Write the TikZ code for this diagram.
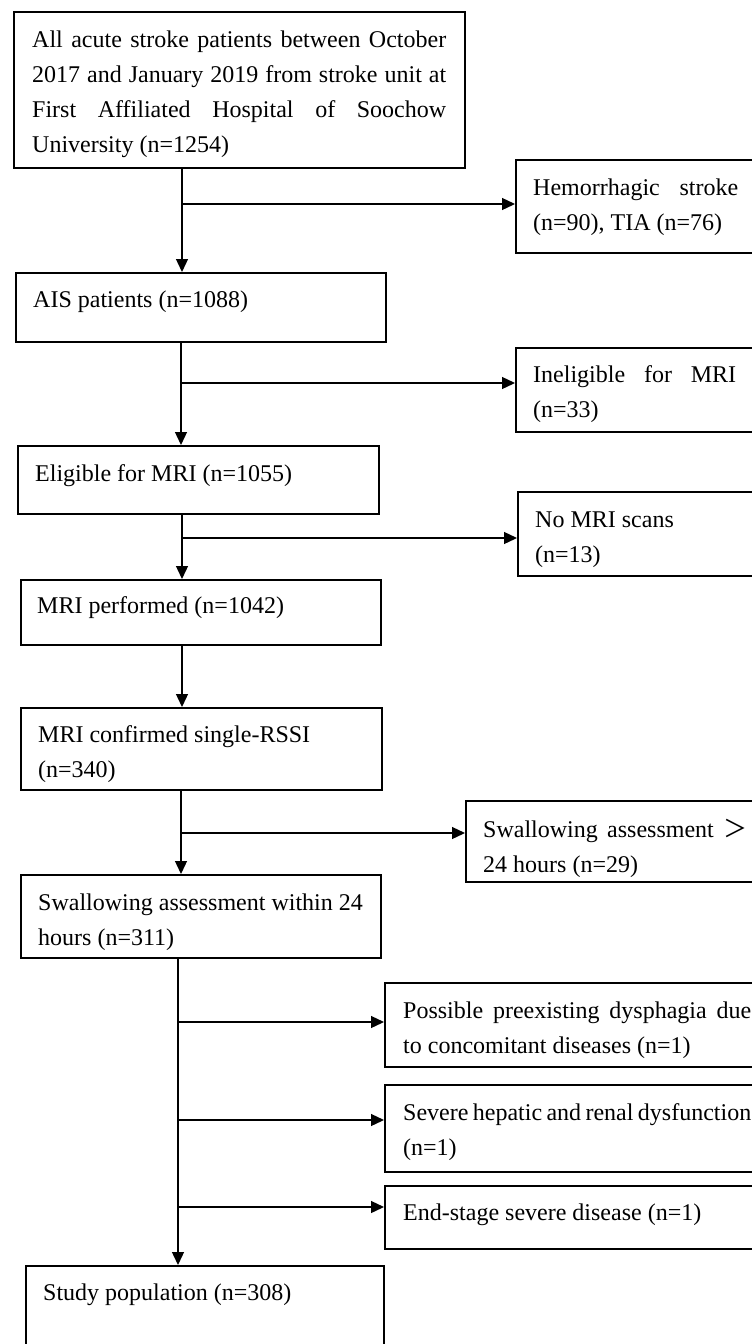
\documentclass[tikz,border=0pt]{standalone}
\usepackage{fontspec}
\setmainfont{Liberation Serif}
\newfontfamily\cjk{Noto Sans CJK SC}
\usetikzlibrary{arrows.meta}
\newcommand{\resetsp}{\spaceskip=0pt\xspaceskip=0pt\relax}
\newcommand{\jline}[2]{\makebox[#1][s]{\resetsp #2}}
\begin{document}
\begin{tikzpicture}[x=1pt,y=-1pt,
  box/.style={draw, line width=1.5pt, inner sep=0pt, anchor=north west},
  txt/.style={anchor=base west, inner sep=0pt, text width=440pt,
    font=\fontsize{24}{35}\selectfont\resetsp,
    execute at begin node=\resetsp},
  conn/.style={line width=1.3pt, -{Triangle[length=13pt,width=12pt]}}]
\useasboundingbox (0,0) rectangle (752,1344);
\clip (0,0) rectangle (752,1344);
\fill[white] (0,0) rectangle (752,1344);

% boxes
\node[box, minimum width=451pt, minimum height=156pt] (b1) at (13,11) {};
\node[box, minimum width=260pt, minimum height=93pt] (b2) at (515,159) {};
\node[box, minimum width=370pt, minimum height=69pt] (b3) at (15,272) {};
\node[box, minimum width=260pt, minimum height=84pt] (b4) at (515,347) {};
\node[box, minimum width=361pt, minimum height=68pt] (b5) at (17,445) {};
\node[box, minimum width=260pt, minimum height=84pt] (b6) at (517,491) {};
\node[box, minimum width=360pt, minimum height=65pt] (b7) at (20,579) {};
\node[box, minimum width=361pt, minimum height=82pt] (b8) at (20,707) {};
\node[box, minimum width=300pt, minimum height=81pt] (b9) at (465,800) {};
\node[box, minimum width=360pt, minimum height=83pt] (b10) at (20,874) {};
\node[box, minimum width=400pt, minimum height=84pt] (b11) at (384,982) {};
\node[box, minimum width=400pt, minimum height=87pt] (b12) at (384,1084) {};
\node[box, minimum width=400pt, minimum height=63pt] (b13) at (384,1185) {};
\node[box, minimum width=358pt, minimum height=120pt] (b14) at (25,1265) {};

% texts
\node[txt] (t1) at (32,47) {\jline{414pt}{All acute stroke patients between October}\\
\jline{414pt}{2017 and January 2019 from stroke unit at}\\
\jline{414pt}{First Affiliated Hospital of Soochow}\\
University (n=1254)};
\node[txt] (t2) at (533,195) {\jline{205pt}{Hemorrhagic stroke}\\(n=90), TIA (n=76)};
\node[txt] (t3) at (33,307) {AIS patients (n=1088)};
\node[txt] (t4) at (533,382) {\jline{203pt}{Ineligible for MRI}\\(n=33)};
\node[txt] (t5) at (35,481) {Eligible for MRI (n=1055)};
\node[txt] (t6) at (535,527) {No MRI scans\\(n=13)};
\node[txt] (t7) at (37,613) {MRI performed (n=1042)};
\node[txt] (t8) at (38,742) {MRI confirmed single-RSSI\\(n=340)};
\node[txt] (t9) at (483,837) {\jline{264pt}{Swallowing assessment {\cjk ＞}}\\24 hours (n=29)};
\node[txt] (t10) at (38,910) {Swallowing assessment within 24\\hours (n=311)};
\node[txt] (t11) at (403,1018) {\jline{348pt}{Possible preexisting dysphagia due}\\to concomitant diseases (n=1)};
\node[txt] (t12) at (403,1120) {\jline{348pt}{Severe hepatic and renal dysfunction}\\(n=1)};
\node[txt] (t13) at (403,1220) {End-stage severe disease (n=1)};
\node[txt] (t14) at (43,1300) {Study population (n=308)};

% connectors
\coordinate (j1) at (182,204);
\draw[conn] (b1.south -| j1) -- (b3.north -| j1);
\draw[conn] (j1) -- (j1 -| b2.west);
\coordinate (j2) at (181,383);
\draw[conn] (b3.south -| j2) -- (b5.north -| j2);
\draw[conn] (j2) -- (j2 -| b4.west);
\coordinate (j3) at (182,538);
\draw[conn] (b5.south -| j3) -- (b7.north -| j3);
\draw[conn] (j3) -- (j3 -| b6.west);
\draw[conn] (b7.south -| j3) -- (b8.north -| j3);
\coordinate (j5) at (181,833);
\draw[conn] (b8.south -| j5) -- (b10.north -| j5);
\draw[conn] (j5) -- (j5 -| b9.west);
\coordinate (j6) at (178,1022);
\coordinate (j7) at (178,1120);
\coordinate (j8) at (178,1207);
\draw[conn] (b10.south -| j6) -- (b14.north -| j6);
\draw[conn] (j6) -- (j6 -| b11.west);
\draw[conn] (j7) -- (j7 -| b12.west);
\draw[conn] (j8) -- (j8 -| b13.west);
\end{tikzpicture}
\end{document}
